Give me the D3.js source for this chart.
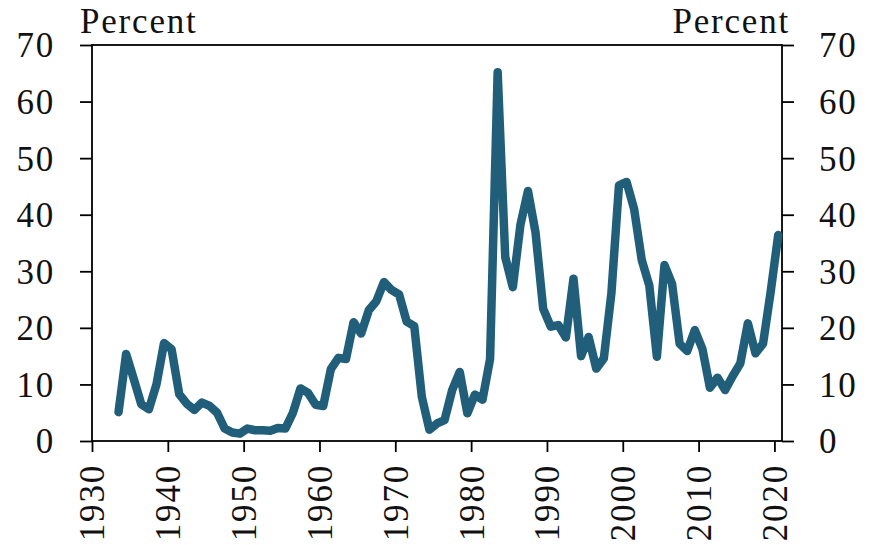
<!DOCTYPE html>
<meta charset="utf-8">
<style>
html, body {
  margin: 0;
  background: #fff;
}

.chart {
  display: block;
}

.chart .axis text,
.chart .unit {
  font-family: "Liberation Serif", "Times New Roman", serif;
  font-size: 35px;
  letter-spacing: 1.8px;
  fill: #111;
}

.chart .axis path,
.chart .axis line,
.chart .frame {
  fill: none;
  stroke: #000;
  stroke-width: 1.8px;
}

.chart .series {
  fill: none;
  stroke: #215e7a;
  stroke-width: 8.5px;
  stroke-linejoin: round;
  stroke-linecap: round;
}
</style>
<body>
<svg class="chart js-chart"></svg>

<script src="https://d3js.org/d3.v7.min.js"></script>
<script>
"use strict";

/* global d3 */
var years = d3.range(1933, 2021);

var values = [
  5.1, 15.4, 11.0, 6.5, 5.6, 10.0, 17.3,            // 1933-1939
  16.2, 8.3, 6.6, 5.5, 6.8, 6.2, 5.0, 2.2, 1.5, 1.3, // 1940s
  2.2, 1.9, 1.9, 1.8, 2.3, 2.2, 5.0, 9.3, 8.5, 6.4,  // 1950s
  6.2, 12.7, 14.7, 14.5, 21.0, 19.0, 23.1, 24.7, 28.1, 26.7, // 1960s
  25.9, 21.1, 20.3, 7.8, 2.0, 3.1, 3.7, 9.0, 12.2, 4.9,      // 1970s
  8.2, 7.3, 14.5, 65.2, 32.5, 27.2, 38.2, 44.2, 36.8, 23.4,  // 1980s
  20.2, 20.5, 18.3, 28.7, 15.0, 18.4, 12.8, 14.6, 26.1, 45.2, // 1990s
  45.8, 41.0, 32.0, 27.5, 14.9, 31.1, 27.8, 17.2, 15.9, 19.6, // 2000s
  16.3, 9.4, 11.2, 9.0, 11.5, 13.7, 20.8, 15.5, 17.2, 26.3,   // 2010s
  36.4                                                        // 2020
];

var xTicks = d3.range(1930, 2021, 10);
var yTicks = d3.range(0, 71, 10);
var unitLabel = "Percent";

var width = 870,
    height = 545,
    margin = { top: 45, right: 88, bottom: 104, left: 92 };

var innerW = width - margin.left - margin.right,
    innerH = height - margin.top - margin.bottom;

var svg = d3.select(".js-chart")
  .attr("width", width)
  .attr("height", height);

var g = svg.append("g")
  .attr("transform", "translate(" + margin.left + "," + margin.top + ")");

var x = d3.scaleLinear().domain([1930, 2021]).range([0, innerW]);
var y = d3.scaleLinear().domain([0, 70]).range([innerH, 0]);

var data = years.map(function (yr, i) { return { year: yr, value: values[i] }; });

// frame round the plot
g.append("rect")
  .attr("class", "frame")
  .attr("width", innerW)
  .attr("height", innerH);

var yLeft = g.append("g")
  .attr("class", "axis axis--y")
  .call(d3.axisLeft(y).tickValues(yTicks).tickSize(12).tickPadding(25));

var yRight = g.append("g")
  .attr("class", "axis axis--y")
  .attr("transform", "translate(" + innerW + ",0)")
  .call(d3.axisRight(y).tickValues(yTicks).tickSize(12).tickPadding(25));

[yLeft, yRight].forEach(function (ax) {
  ax.select(".domain").remove();
  ax.selectAll("text").attr("dy", "0.34em");
});

var xAxis = g.append("g")
  .attr("class", "axis axis--x")
  .attr("transform", "translate(0," + innerH + ")")
  .call(d3.axisBottom(x).tickValues(xTicks).tickFormat(d3.format("d")).tickSize(11));

xAxis.select(".domain").remove();
xAxis.selectAll("text")
  .attr("text-anchor", "end")
  .attr("transform", "rotate(-90)")
  .attr("x", -23)
  .attr("y", 0)
  .attr("dy", "0.34em");

// annual values drawn at mid-year
var line = d3.line()
  .x(function (d) { return x(d.year + 0.5); })
  .y(function (d) { return y(d.value); });

g.append("path")
  .datum(data)
  .attr("class", "series")
  .attr("d", line);

svg.append("text")
  .attr("class", "unit")
  .attr("x", margin.left - 12)
  .attr("y", 33)
  .text(unitLabel);

svg.append("text")
  .attr("class", "unit")
  .attr("text-anchor", "end")
  .attr("x", margin.left + innerW + 8)
  .attr("y", 33)
  .text(unitLabel);
</script>
</body>
